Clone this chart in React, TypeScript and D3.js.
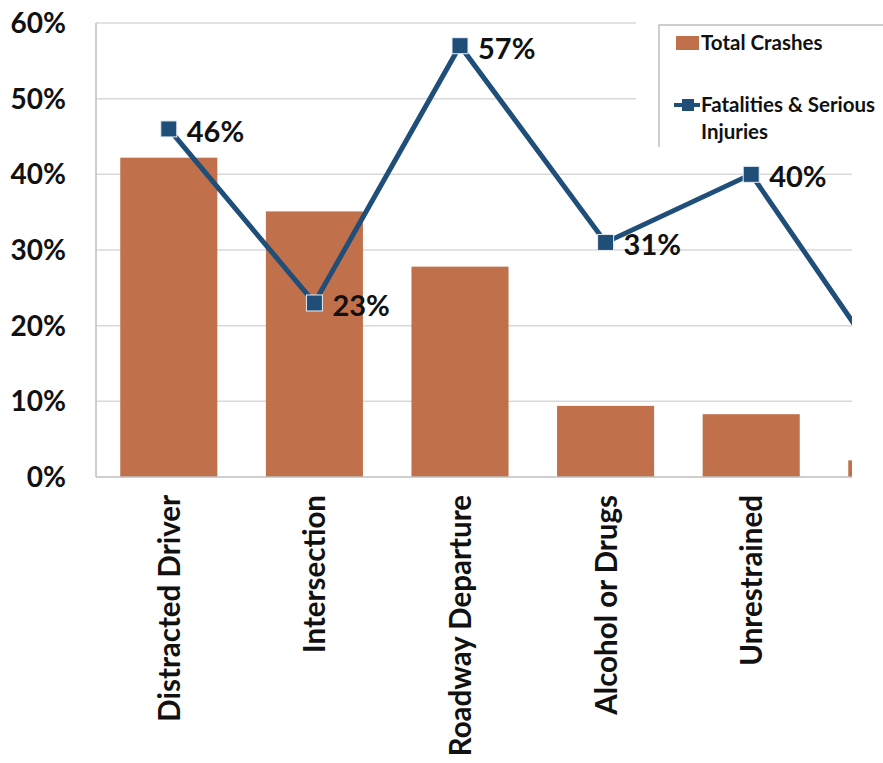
import { useEffect, useRef } from "react";
import * as d3 from "d3";

const categories = [
  "Distracted Driver",
  "Intersection",
  "Roadway Departure",
  "Alcohol or Drugs",
  "Unrestrained",
  "Other",
];
// the sixth category is cut off by the right edge of the picture
const categoryLabels = [
  "Distracted Driver",
  "Intersection",
  "Roadway Departure",
  "Alcohol or Drugs",
  "Unrestrained",
  "",
];
const totalCrashes = [42.2, 35.1, 27.8, 9.4, 8.3, 2.2];
const fatalities = [46, 23, 57, 31, 40, 12];
const fatalityLabels = ["46%", "23%", "57%", "31%", "40%", ""];
const yTicks = [0, 10, 20, 30, 40, 50, 60];

const W = 883;
const H = 763;
const FONT = "Lato, 'Open Sans', sans-serif";
const BAR = "#C0704A";
const LINE = "#1F4E79";

const App = () => {
  const svgRef = useRef<SVGSVGElement>(null);

  useEffect(() => {
    const svg = d3.select(svgRef.current);
    svg.selectAll("*").remove();

    const left = 96;
    const plotRight = 852;
    const top = 23;
    const bottom = 477;

    const x = d3
      .scaleBand()
      .domain(categories)
      .range([left, left + 6 * 145.6])
      .paddingInner(1 / 3)
      .paddingOuter(1 / 6);
    const y = d3.scaleLinear().domain([0, 60]).range([bottom, top]);
    const cx = (i: number) => x(categories[i])! + x.bandwidth() / 2;

    svg
      .append("defs")
      .append("clipPath")
      .attr("id", "plot-clip")
      .append("rect")
      .attr("x", left)
      .attr("y", 0)
      .attr("width", plotRight - left)
      .attr("height", bottom + 2);

    // gridlines
    svg
      .append("g")
      .selectAll("line")
      .data(yTicks.filter((t) => t > 0))
      .join("line")
      .attr("x1", left)
      .attr("x2", plotRight)
      .attr("y1", (d) => y(d))
      .attr("y2", (d) => y(d))
      .attr("stroke", "#d9d9d9")
      .attr("stroke-width", 1.5);

    // y tick labels
    svg
      .append("g")
      .selectAll("text")
      .data(yTicks)
      .join("text")
      .attr("x", 66)
      .attr("y", (d) => y(d))
      .attr("dy", "0.36em")
      .attr("text-anchor", "end")
      .attr("font-family", FONT)
      .attr("font-weight", "bold")
      .attr("font-size", 28)
      .attr("fill", "#111")
      .text((d) => `${d}%`);

    const plot = svg.append("g").attr("clip-path", "url(#plot-clip)");

    plot
      .selectAll("rect")
      .data(totalCrashes)
      .join("rect")
      .attr("x", (_, i) => x(categories[i])!)
      .attr("width", x.bandwidth())
      .attr("y", (d) => y(d))
      .attr("height", (d) => bottom - y(d))
      .attr("fill", BAR);

    // axes lines
    svg
      .append("line")
      .attr("x1", left)
      .attr("x2", left)
      .attr("y1", top)
      .attr("y2", bottom)
      .attr("stroke", "#bfbfbf")
      .attr("stroke-width", 1.5);
    svg
      .append("line")
      .attr("x1", left)
      .attr("x2", plotRight)
      .attr("y1", bottom)
      .attr("y2", bottom)
      .attr("stroke", "#bfbfbf")
      .attr("stroke-width", 1.5);

    const line = d3
      .line<number>()
      .x((_, i) => cx(i))
      .y((d) => y(d));

    plot
      .append("path")
      .datum(fatalities)
      .attr("d", line)
      .attr("fill", "none")
      .attr("stroke", LINE)
      .attr("stroke-width", 5);

    plot
      .selectAll("rect.marker")
      .data(fatalities)
      .join("rect")
      .attr("class", "marker")
      .attr("x", (_, i) => cx(i) - 8)
      .attr("y", (d) => y(d) - 8)
      .attr("width", 16)
      .attr("height", 16)
      .attr("fill", LINE)
      .attr("stroke", "#e8eef5")
      .attr("stroke-width", 1);

    svg
      .append("g")
      .selectAll("text")
      .data(fatalities)
      .join("text")
      .attr("x", (_, i) => cx(i) + 18)
      .attr("y", (d) => y(d))
      .attr("dy", "0.45em")
      .attr("font-family", FONT)
      .attr("font-weight", "bold")
      .attr("font-size", 29)
      .attr("fill", "#111")
      .text((_, i) => fatalityLabels[i]);

    // category labels
    svg
      .append("g")
      .selectAll("text")
      .data(categories)
      .join("text")
      .attr("transform", (d) => `translate(${x(d)! + x.bandwidth() / 2 + 11},495) rotate(-90)`)
      .attr("text-anchor", "end")
      .attr("font-family", FONT)
      .attr("font-weight", "bold")
      .attr("font-size", 29.5)
      .attr("fill", "#111")
      .text((_, i) => categoryLabels[i]);

    // legend
    const lg = svg.append("g");
    lg.append("rect")
      .attr("x", 636)
      .attr("y", 0)
      .attr("width", W - 636)
      .attr("height", 147)
      .attr("fill", "#fff");
    lg.append("path")
      .attr("d", `M659,147V25H${W}`)
      .attr("fill", "none")
      .attr("stroke", "#bfbfbf")
      .attr("stroke-width", 1.5);
    lg.append("rect")
      .attr("x", 676)
      .attr("y", 36)
      .attr("width", 23)
      .attr("height", 14)
      .attr("fill", BAR);
    lg.append("line")
      .attr("x1", 674)
      .attr("x2", 700)
      .attr("y1", 105)
      .attr("y2", 105)
      .attr("stroke", LINE)
      .attr("stroke-width", 4);
    lg.append("rect")
      .attr("x", 682)
      .attr("y", 99)
      .attr("width", 12)
      .attr("height", 12)
      .attr("fill", LINE);
    const legText = [
      { t: "Total Crashes", y: 50 },
      { t: "Fatalities & Serious", y: 112 },
      { t: "Injuries", y: 139 },
    ];
    lg.selectAll("text")
      .data(legText)
      .join("text")
      .attr("x", 701)
      .attr("y", (d) => d.y)
      .attr("font-family", FONT)
      .attr("font-weight", "bold")
      .attr("font-size", 20.5)
      .attr("fill", "#111")
      .text((d) => d.t);
  }, []);

  return (
    <svg
      ref={svgRef}
      width={W}
      height={H}
      style={{ position: "absolute", left: 0, top: 0, background: "#fff" }}
    />
  );
};

export default App;
